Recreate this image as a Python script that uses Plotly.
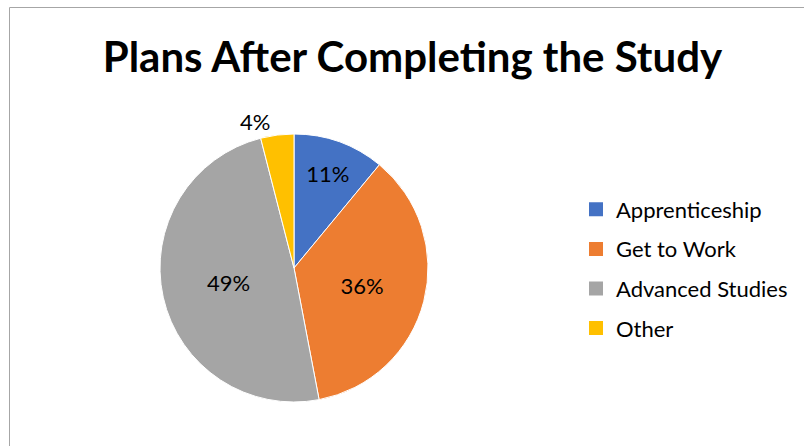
import plotly.graph_objects as go

# Survey answers: share of respondents by plan after the study (%)
categories = ["Apprenticeship", "Get to Work", "Advanced Studies", "Other"]
shares = [11, 36, 49, 4]
label_positions = ["inside", "inside", "inside", "outside"]
slice_colors = ["#4472C4", "#ED7D31", "#A5A5A5", "#FFC000"]

W, H = 804, 446
font_family = "Lato, 'Open Sans', sans-serif"

fig = go.Figure()

fig.add_trace(
    go.Pie(
        labels=categories,
        values=shares,
        sort=False,
        direction="clockwise",
        rotation=0,
        marker=dict(colors=slice_colors, line=dict(color="white", width=1)),
        texttemplate="%{value}%",
        textposition=label_positions,
        insidetextorientation="horizontal",
        textfont=dict(family=font_family, size=22, color="#000000"),
        outsidetextfont=dict(family=font_family, size=22, color="#000000"),
        domain=dict(x=[160 / W, 428 / W], y=[(H - 402) / H, (H - 134) / H]),
        hoverinfo="label+percent",
        showlegend=False,
    )
)

# Legend entries: one square swatch per category, spaced as separate groups
for name, color in zip(categories, slice_colors):
    fig.add_trace(
        go.Scatter(
            x=[None],
            y=[None],
            mode="markers",
            name=name,
            legendgroup=name,
            marker=dict(symbol="square", size=14, color=color),
            hoverinfo="skip",
        )
    )

fig.update_layout(
    width=W,
    height=H,
    margin=dict(l=0, r=0, t=0, b=0),
    paper_bgcolor="white",
    plot_bgcolor="white",
    xaxis=dict(visible=False),
    yaxis=dict(visible=False),
    title=dict(
        text="<b>Plans After Completing the Study</b>",
        x=0.513,
        xanchor="center",
        y=1 - 57 / H,
        yanchor="middle",
        font=dict(family=font_family, size=42, color="#000000"),
    ),
    legend=dict(
        x=576 / W,
        xanchor="left",
        y=1 - 269 / H,
        yanchor="middle",
        font=dict(family=font_family, size=22, color="#000000"),
        itemwidth=30,
        tracegroupgap=8,
        bgcolor="rgba(0,0,0,0)",
    ),
    shapes=[
        dict(
            type="rect",
            xref="paper",
            yref="paper",
            x0=9.5 / W,
            x1=1.01,
            y0=-0.02,
            y1=1 - 7.5 / H,
            line=dict(color="#A6A6A6", width=1),
            fillcolor="rgba(0,0,0,0)",
            layer="below",
        )
    ],
)

fig.write_html("out.html")
